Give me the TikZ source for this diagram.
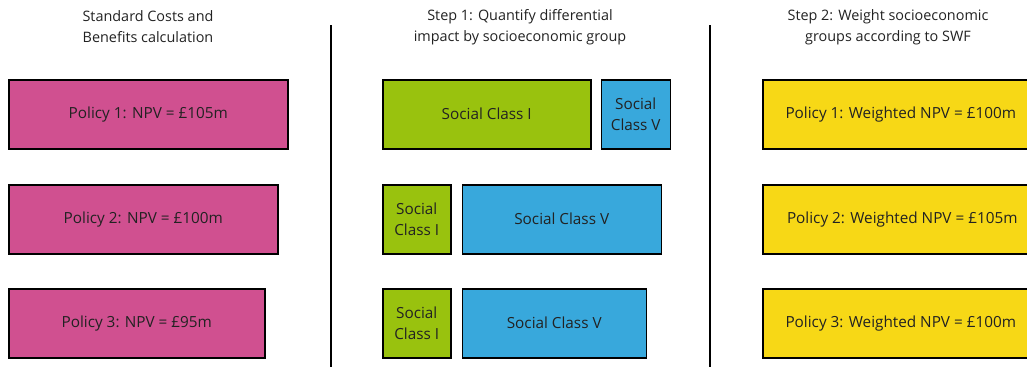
\documentclass[tikz,border=0pt]{standalone}
\usepackage{fontspec}
\setmainfont{Open Sans}
\usepackage{tikz}
\usetikzlibrary{positioning}
\definecolor{cost}	{RGB}	{208,	80,	144}
\definecolor{classone}	{RGB}	{153,	194,	14}
\definecolor{classfive}	{RGB}	{56,	168,	220}
\definecolor{weighted}	{RGB}	{247,	216,	22}
\definecolor{ink}	{RGB}	{34,	34,	34}

\begin{document}
\begin{tikzpicture}[x=1pt, y=-1pt, every node/.append style={text=ink},
  box/.style={draw=black, line width=1.5pt, rectangle, anchor=north west,
              minimum height=69pt, align=center, inner sep=0pt,
              font=\fontsize{15.3}{21}\selectfont},
  heading/.style={align=center, font=\fontsize{14.4}{21}\selectfont}]
  \useasboundingbox (0,0) rectangle (1027,367);
  \clip (0,0) rectangle (1027,367);

  % column headings
  \node (head1) [heading] at (148,27) {Standard Costs and\\Benefits calculation};
  \node (head2) [heading] at (520,27) {Step 1: Quantify differential\\impact by socioeconomic group};
  \node (head3) [heading] at (888,27) {Step 2: Weight socioeconomic\\groups according to SWF};

  % standard NPV
  \node (npv1) [box, fill=cost, minimum width=279pt] at (8,79)  {Policy 1: NPV = £105m};
  \node (npv2) [box, fill=cost, minimum width=269pt] at (8,184) {Policy 2: NPV = £100m};
  \node (npv3) [box, fill=cost, minimum width=256pt] at (8,288) {Policy 3: NPV = £95m};

  % split by social class
  \node (sc1a) [box, fill=classone, minimum width=208pt] at (382,79) {Social Class I};
  \node (sc1b) [box, fill=classfive, minimum width=69pt, right=9pt of sc1a.north east, anchor=north west] {Social\\Class V};
  \node (sc2a) [box, fill=classone, minimum width=68pt] at (382,184) {Social\\Class I};
  \node (sc2b) [box, fill=classfive, minimum width=199pt, right=10pt of sc2a.north east, anchor=north west] {Social Class V};
  \node (sc3a) [box, fill=classone, minimum width=68pt] at (382,288) {Social\\Class I};
  \node (sc3b) [box, fill=classfive, minimum width=184pt, right=10pt of sc3a.north east, anchor=north west] {Social Class V};

  % weighted NPV (boxes run off the right edge)
  \node (wnpv1) [box, fill=weighted, minimum width=276pt] at (762,79)  {Policy 1: Weighted NPV = £100m};
  \node (wnpv2) [box, fill=weighted, minimum width=279pt] at (762,184) {Policy 2: Weighted NPV = £105m};
  \node (wnpv3) [box, fill=weighted, minimum width=276pt] at (762,288) {Policy 3: Weighted NPV = £100m};

  % dividers
  \coordinate (div1top) at (331,25);
  \coordinate (div1bot) at (331,367);
  \coordinate (div2top) at (710,25);
  \coordinate (div2bot) at (710,367);
  \draw[line width=1.6pt] (div1top) -- (div1bot);
  \draw[line width=1.6pt] (div2top) -- (div2bot);
\end{tikzpicture}
\end{document}
